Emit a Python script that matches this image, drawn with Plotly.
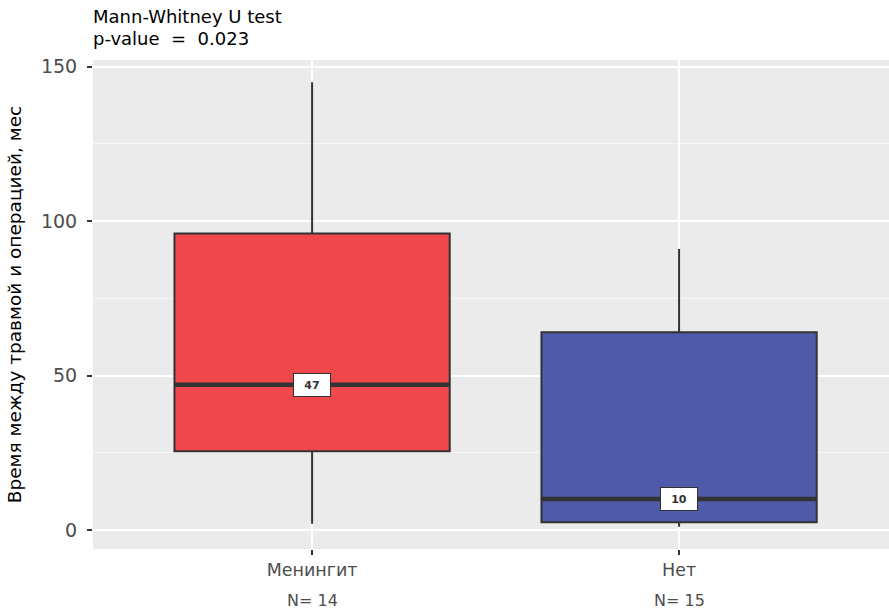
import plotly.graph_objects as go

# Group summary statistics (months between injury and surgery)
groups = ["Менингит", "Нет"]
counts = [14, 15]
lower_whisker = [2, 1]
q1_vals = [25.5, 2.5]
medians = [47, 10]
q3_vals = [96, 64]
upper_whisker = [145, 91]
fill_colors = ["rgba(239,58,62,0.93)", "rgba(67,79,163,0.93)"]

y_title = "Время между травмой и операцией, мес"
test_name = "Mann-Whitney U test"
p_value = "0.023"

box_w = 0.75
edge = "#333333"

fig = go.Figure()
for i, g in enumerate(groups):
    fig.add_trace(go.Box(
        x=[i], q1=[q1_vals[i]], median=[medians[i]], q3=[q3_vals[i]],
        lowerfence=[lower_whisker[i]], upperfence=[upper_whisker[i]],
        width=box_w, whiskerwidth=0, boxpoints=False,
        fillcolor=fill_colors[i], line=dict(color=edge, width=2),
        name=g, showlegend=False, hoverinfo="skip",
    ))
    # thick median bar, as in ggplot's boxplot
    fig.add_trace(go.Scatter(
        x=[i - box_w / 2, i + box_w / 2], y=[medians[i], medians[i]],
        mode="lines", line=dict(color=edge, width=4.5),
        showlegend=False, hoverinfo="skip",
    ))
    fig.add_annotation(
        x=i, y=medians[i], text=f"<b>{medians[i]}</b>", showarrow=False,
        bgcolor="white", bordercolor=edge, borderwidth=1, borderpad=4,
        width=28, height=14,
        font=dict(family="DejaVu Sans", size=11, color="#333333"),
    )
    fig.add_annotation(
        x=i, xref="x", y=0, yref="paper", yanchor="middle", yshift=-51,
        text=f"N= {counts[i]}", showarrow=False,
        font=dict(family="DejaVu Sans", size=16, color="#4D4D4D"),
    )

title_lines = [test_name, f"p-value  =  {p_value}"]
for k, line in enumerate(title_lines):
    fig.add_annotation(
        x=-0.002, xref="paper", y=1, yref="paper", xanchor="left",
        yanchor="middle", yshift=44 - 22 * k, align="left", showarrow=False,
        text=line, font=dict(family="DejaVu Sans", size=18, color="black"),
    )

fig.update_layout(
    width=889, height=609,
    margin=dict(l=93, r=0, t=60, b=60),
    paper_bgcolor="white", plot_bgcolor="#EBEBEB",
    font=dict(family="DejaVu Sans"),
    xaxis=dict(
        range=[-0.597, 1.572], tickvals=[0, 1], ticktext=groups,
        ticks="outside", ticklen=5, tickwidth=2, tickcolor="#333333",
        tickfont=dict(size=17.5, color="#4D4D4D"),
        showgrid=True, gridcolor="white", gridwidth=2, zeroline=False,
        showline=False,
    ),
    yaxis=dict(
        range=[-6.2, 152.2], tickvals=[0, 50, 100, 150],
        ticks="outside", ticklen=5, tickwidth=2, tickcolor="#333333",
        ticklabelstandoff=6,
        tickfont=dict(size=19, color="#4D4D4D"),
        showgrid=True, gridcolor="white", gridwidth=2, zeroline=False,
        minor=dict(tickvals=[25, 75, 125], showgrid=True,
                   gridcolor="#F7F7F7", gridwidth=1, ticks=""),
        title=dict(text=y_title, font=dict(size=18.5, color="black"), standoff=14),
        showline=False,
    ),
)

fig.write_html("out.html")
